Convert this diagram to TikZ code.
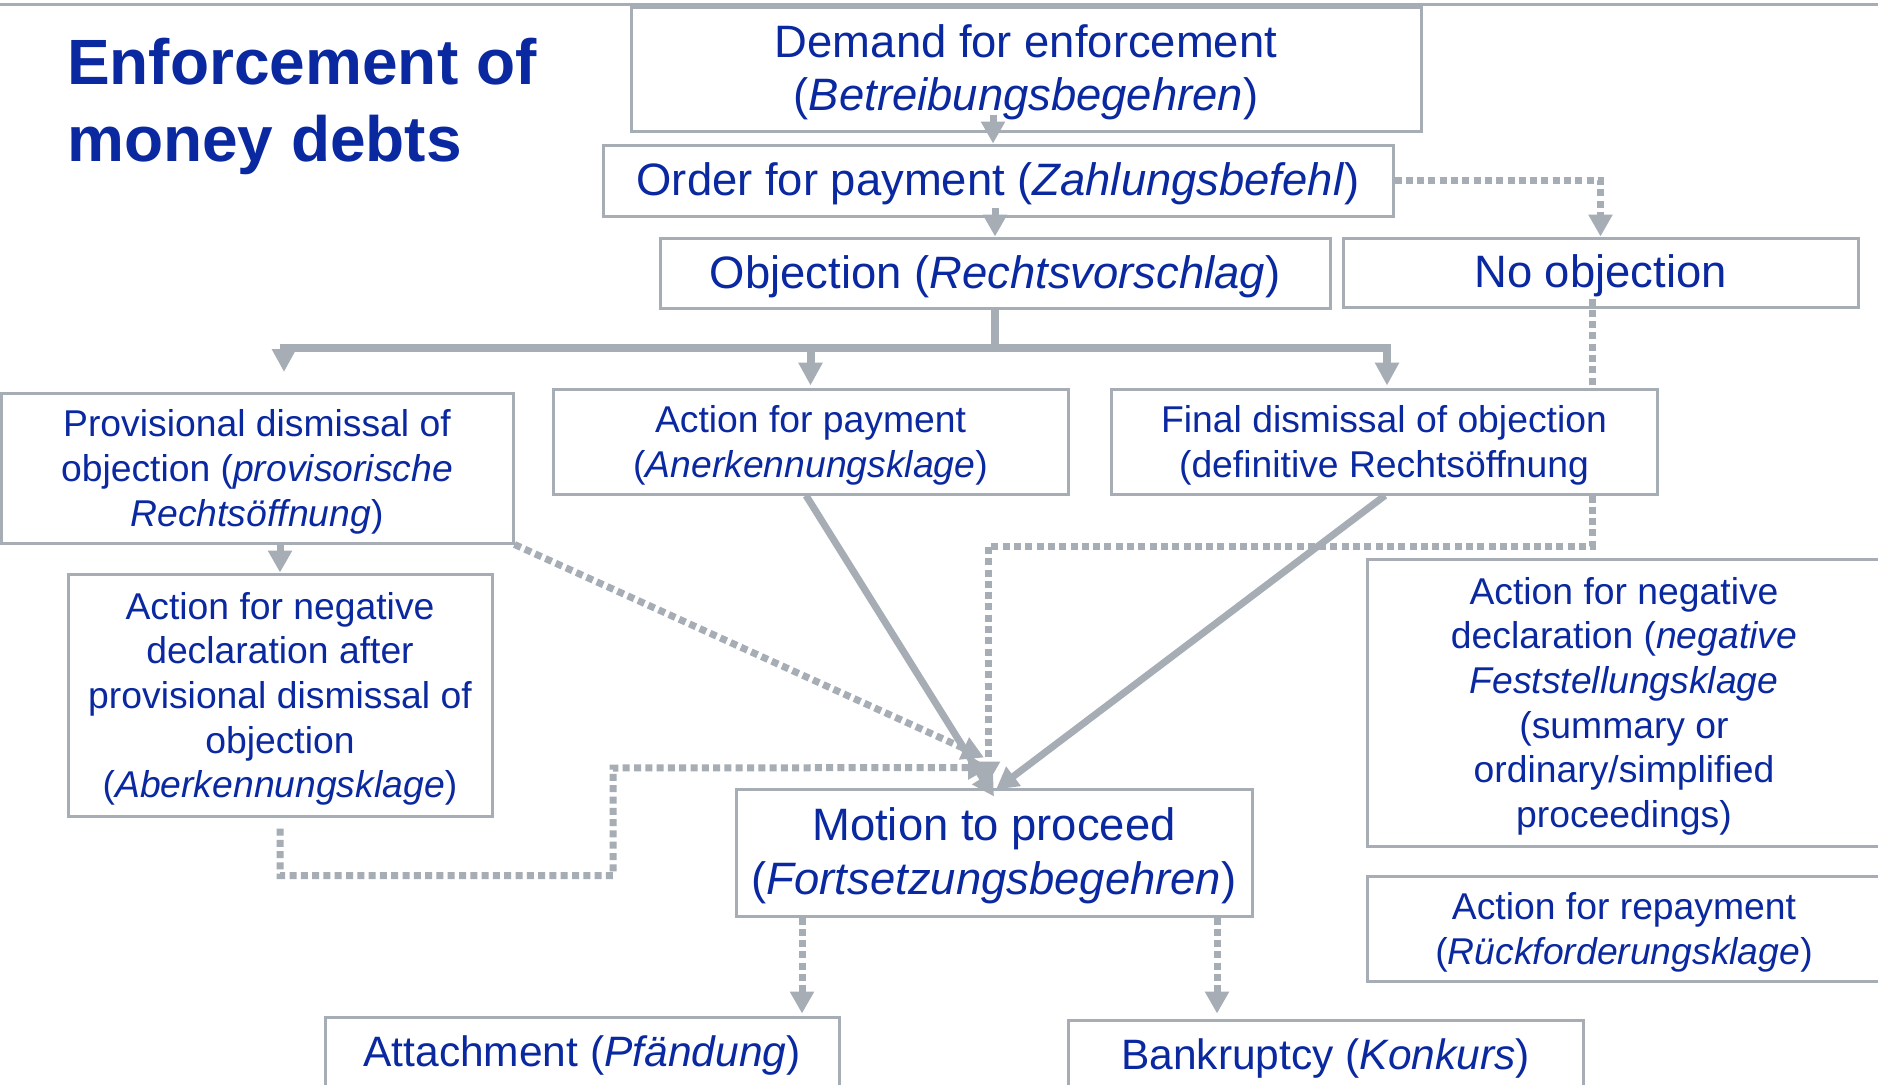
\documentclass[tikz,border=0pt]{standalone}
\usepackage{fontspec}
\setmainfont{Liberation Sans}
\usetikzlibrary{arrows.meta,calc}
\definecolor{txtblue}{HTML}{0A28A0}
\definecolor{lgray}{HTML}{A6ADB5}
\newcommand{\bxt}[1]{\raisebox{-4.5pt}[\height][\depth]{\begin{tabular}{@{}c@{}}#1\end{tabular}}}
\begin{document}
\begin{tikzpicture}[x=1pt,y=-1pt,
  box/.style={draw=lgray, line width=3pt, fill=white, inner sep=0pt, text=txtblue},
  big/.style={font=\fontsize{45.4}{53.5}\selectfont},
  mid/.style={font=\fontsize{37.3}{44.7}\selectfont},
  low/.style={font=\fontsize{42.5}{51}\selectfont},
  solidline/.style={draw=lgray, line width=7pt},
  solidarr/.style={solidline, -{Triangle[width=23pt,length=22pt]}},
  branch/.style={draw=lgray, line width=8pt, -{Triangle[width=23pt,length=23pt]}},
  dotline/.style={draw=lgray, line width=7pt, dash pattern=on 7pt off 4.3pt},
  dotarr/.style={dotline, -{Triangle[width=23pt,length=22pt]}},
  titlefont/.style={anchor=base west, inner sep=0pt, text=txtblue, font=\fontsize{64}{77}\selectfont\bfseries}]
\useasboundingbox (0,0) rectangle (1878,1084);
\fill[white] (0,0) rectangle (1878,1084);
% top rule
\draw[lgray, line width=3pt] (0,4) -- (1878,4);
% title
\node[titlefont] (title1) at (67,84) {Enforcement of};
\node[titlefont] (title2) at (67,161) {money debts};
% boxes
\node[box,big,minimum width=790pt,minimum height=124pt] (demand) at (1026,69) {\bxt{Demand for enforcement\\(\textit{Betreibungsbegehren})}};
\node[box,big,minimum width=790pt,minimum height=71pt] (order) at (998,180.5) {\bxt{Order for payment (\textit{Zahlungsbefehl})}};
\node[box,big,minimum width=670pt,minimum height=70pt] (objection) at (995,273) {\bxt{Objection (\textit{Rechtsvorschlag})}};
\node[box,big,minimum width=515pt,minimum height=69pt] (noobj) at (1600.5,272.5) {\bxt{No objection}};
\node[box,mid,minimum width=512pt,minimum height=150pt] (prov) at (257,468) {\bxt{Provisional dismissal of\\objection (\textit{provisorische}\\\textit{Rechtsöffnung})}};
\node[box,mid,minimum width=515pt,minimum height=105pt] (payment) at (810.5,441.5) {\bxt{Action for payment\\(\textit{Anerkennungsklage})}};
\node[box,mid,minimum width=546pt,minimum height=105pt] (final) at (1384,441.5) {\bxt{Final dismissal of objection\\(definitive Rechtsöffnung}};
\node[box,mid,minimum width=424pt,minimum height=242pt] (nego) at (280,695) {\bxt{Action for negative\\declaration after\\provisional dismissal of\\objection\\(\textit{Aberkennungsklage})}};
\node[box,big,minimum width=516pt,minimum height=127pt] (motion) at (994,852.5) {\bxt{Motion to proceed\\(\textit{Fortsetzungsbegehren})}};
\node[box,mid,minimum width=514pt,minimum height=287pt] (negfest) at (1624,702.5) {\bxt{Action for negative\\declaration (\textit{negative}\\\textit{Feststellungsklage}\\(summary or\\ordinary/simplified\\proceedings)}};
\node[box,mid,minimum width=514pt,minimum height=105pt] (repay) at (1624,928.5) {\bxt{Action for repayment\\(\textit{Rückforderungsklage})}};
\node[box,low,minimum width=514pt,minimum height=70pt] (attach) at (582,1052) {\bxt{Attachment (\textit{Pfändung})}};
\node[box,low,minimum width=515pt,minimum height=70pt] (bankrupt) at (1325.5,1055) {\bxt{Bankruptcy (\textit{Konkurs})}};
% helper coordinates
\coordinate (brY) at (0,348);
\coordinate (provin) at (284,372);
\coordinate (nx) at (1592,0);
\coordinate (ny) at (0,546);
\coordinate (loopA) at (613,768);
\coordinate (ax) at (802,0);
\coordinate (bx) at (1217,0);
% connectors
\draw[solidarr] ([xshift=-5pt,yshift=18pt]order.north |- demand.south) -- ([xshift=-5pt]order.north);
\draw[solidarr] ([yshift=10pt]order.south -| objection.north) -- (objection.north);
\draw[dotarr] (order.east) -- (order.east -| noobj.north) -- (noobj.north);
\draw[branch] (objection.south) |- (provin |- brY) -- (provin);
\draw[branch] (objection.south |- brY) -| ([yshift=2pt]payment.north);
\draw[branch] (objection.south |- brY) -| ([xshift=3pt,yshift=2pt]final.north);
\draw[solidarr] (nego.north |- prov.south) -- (nego.north);
\draw[dotarr] (prov.south east) -- ([xshift=-10pt,yshift=30pt]motion.north);
\draw[dotline] ([yshift=10pt]noobj.south -| nx) -- (final.north -| nx);
\draw[dotarr] (final.south -| nx) -- (nx |- ny) -| ([xshift=-6pt,yshift=4pt]motion.north);
\draw[dotarr] ([yshift=-11pt]nego.south) -- ++(0,47) -| (loopA) -- ([xshift=-4pt,yshift=20pt]motion.north);
\draw[solidarr] ([xshift=-4.5pt]payment.south) -- ([yshift=-9pt]motion.north);
\draw[solidarr] ([xshift=1pt]final.south) -- ([xshift=2pt,yshift=-2pt]motion.north);
\draw[dotarr] (motion.south -| ax) -- ([yshift=2pt]attach.north -| ax);
\draw[dotarr] (motion.south -| bx) -- ([yshift=5pt]bankrupt.north -| bx);
\end{tikzpicture}
\end{document}
